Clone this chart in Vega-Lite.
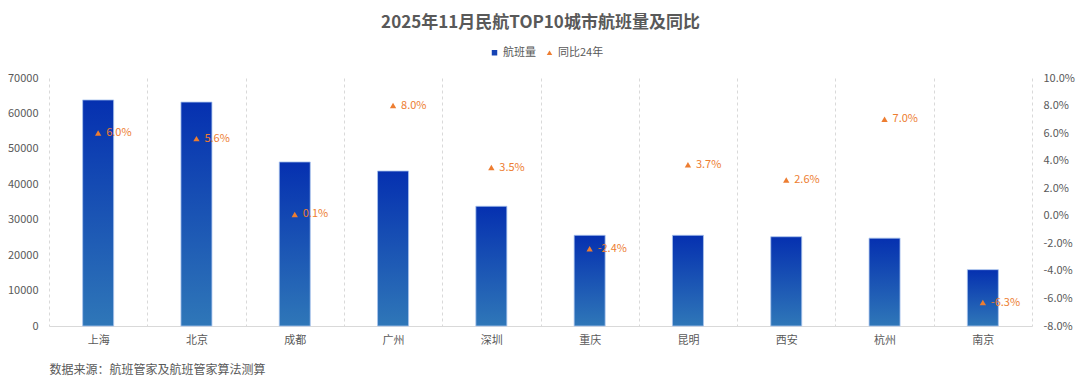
{
  "$schema": "https://vega.github.io/schema/vega-lite/v6.json",
  "width": 983,
  "height": 248,
  "autosize": {"type": "none"},
  "padding": {"left": 49, "top": 78, "right": 48, "bottom": 59},
  "background": "white",
  "title": {
    "text": "2025年11月民航TOP10城市航班量及同比",
    "font": "Noto Sans CJK SC",
    "fontSize": 17,
    "fontWeight": "bold",
    "color": "#595959",
    "anchor": "middle",
    "offset": 15
  },
  "config": {
    "view": {"stroke": null},
    "font": "Noto Sans CJK SC",
    "axis": {"labelFont": "Noto Sans CJK SC", "labelColor": "#595959", "labelFontSize": 11, "titleFont": "Noto Sans CJK SC"},
    "legend": {"labelFont": "Noto Sans CJK SC"}
  },
  "data": {
    "values": [
      {"city": "上海", "flights": 63800, "yoy": 0.060},
      {"city": "北京", "flights": 63200, "yoy": 0.056},
      {"city": "成都", "flights": 46300, "yoy": 0.001},
      {"city": "广州", "flights": 43750, "yoy": 0.080},
      {"city": "深圳", "flights": 33800, "yoy": 0.035},
      {"city": "重庆", "flights": 25600, "yoy": -0.024},
      {"city": "昆明", "flights": 25600, "yoy": 0.037},
      {"city": "西安", "flights": 25200, "yoy": 0.026},
      {"city": "杭州", "flights": 24800, "yoy": 0.070},
      {"city": "南京", "flights": 15900, "yoy": -0.063}
    ]
  },
  "encoding": {
    "x": {
      "field": "city",
      "type": "nominal",
      "sort": null,
      "scale": {"paddingInner": 0, "paddingOuter": 0},
      "axis": {
        "title": "数据来源：航班管家及航班管家算法测算",
        "titleAnchor": "start",
        "titleAlign": "left",
        "titleFontSize": 12,
        "titleFontWeight": "normal",
        "titleColor": "#595959",
        "titlePadding": 19,
        "labelAngle": 0,
        "labelPadding": 8,
        "ticks": false,
        "tickBand": "extent",
        "grid": true,
        "gridDash": [3, 3],
        "gridColor": "#D9D9D9",
        "domainColor": "#D9D9D9"
      }
    }
  },
  "layer": [
    {
      "mark": {
        "type": "bar",
        "width": 31,
        "fill": {
          "gradient": "linear",
          "x1": 0, "y1": 0, "x2": 0, "y2": 1,
          "stops": [
            {"offset": 0, "color": "#0530B0"},
            {"offset": 1, "color": "#2F77B8"}
          ]
        },
        "stroke": "#A9C4EE",
        "strokeWidth": 0.8
      },
      "encoding": {
        "y": {
          "field": "flights",
          "type": "quantitative",
          "scale": {"domain": [0, 70000]},
          "axis": {
            "title": null,
            "values": [0, 10000, 20000, 30000, 40000, 50000, 60000, 70000],
            "format": "d",
            "grid": false,
            "ticks": false,
            "domain": false,
            "labelPadding": 11
          }
        }
      }
    },
    {
      "layer": [
        {
          "mark": {"type": "point", "filled": true, "size": 40, "opacity": 1},
          "encoding": {
            "color": {
              "datum": "同比24年",
              "scale": {"domain": ["航班量", "同比24年"], "range": ["#1643B4", "#ED7D31"]},
              "legend": {
                "orient": "none",
                "legendX": 440,
                "legendY": -31,
                "direction": "horizontal",
                "title": null,
                "labelFontSize": 11,
                "labelColor": "#595959",
                "labelOffset": 3,
                "columnPadding": 8,
                "symbolSize": 30
              }
            },
            "shape": {
              "datum": "同比24年",
              "scale": {"domain": ["航班量", "同比24年"], "range": ["square", "triangle-up"]},
              "legend": {
                "orient": "none",
                "legendX": 440,
                "legendY": -31,
                "direction": "horizontal",
                "title": null,
                "labelFontSize": 11,
                "labelColor": "#595959",
                "labelOffset": 3,
                "columnPadding": 8,
                "symbolSize": 30
              }
            }
          }
        },
        {
          "mark": {
            "type": "text",
            "align": "left",
            "baseline": "middle",
            "dx": 8,
            "fontSize": 11,
            "color": "#ED7D31",
            "text": {"expr": "replace(format(datum.yoy, '.1%'), '\u2212', '-')"}
          },
          "encoding": {}
        }
      ],
      "encoding": {
        "y": {
          "field": "yoy",
          "type": "quantitative",
          "scale": {"domain": [-0.08, 0.10]},
          "axis": {
            "orient": "right",
            "title": null,
            "values": [-0.08, -0.06, -0.04, -0.02, 0, 0.02, 0.04, 0.06, 0.08, 0.10],
            "format": ".1%",
            "labelExpr": "replace(datum.label, '\u2212', '-')",
            "grid": false,
            "ticks": false,
            "domain": false,
            "labelPadding": 11
          }
        }
      }
    }
  ],
  "resolve": {"scale": {"y": "independent"}}
}
